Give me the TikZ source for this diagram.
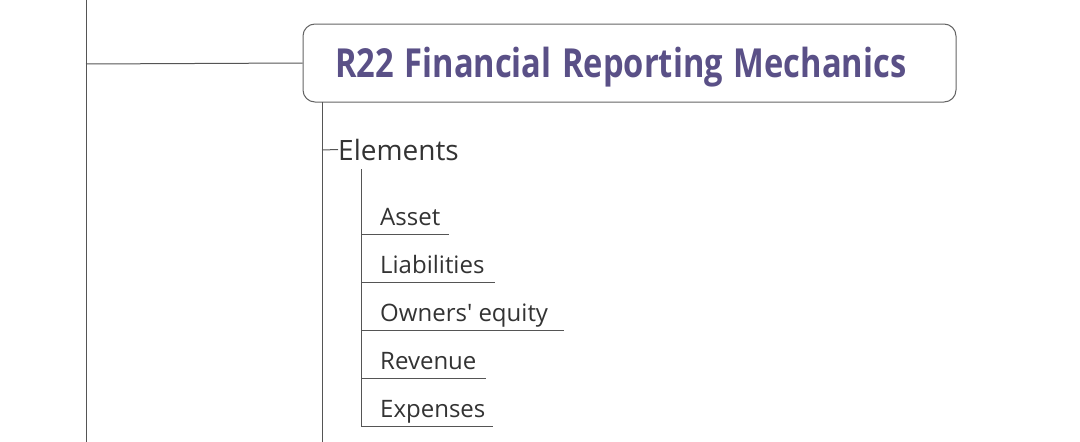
\documentclass[tikz,border=0pt]{standalone}
\usepackage{fontspec}
\setmainfont{Open Sans}
\definecolor{titlecol}{RGB}{90,80,135}
\definecolor{linecol}{RGB}{85,85,85}
\definecolor{txtcol}{RGB}{51,51,51}
\definecolor{boxcol}{RGB}{100,100,100}
\begin{document}
\begin{tikzpicture}[x=1pt,y=-1pt,
  conn/.style={draw=linecol,line width=1pt},
  titlebox/.style={draw=boxcol,line width=1pt,rounded corners=12pt,fill=white,
     minimum width=653pt,minimum height=78pt,inner xsep=32pt,inner ysep=0pt,
     text width=589pt,align=left,text height=29pt,text depth=0pt,
     font=\fontsize{40}{42}\selectfont\bfseries,text=titlecol},
  subtopic/.style={inner sep=0pt,anchor=base west,text=txtcol,font=\fontsize{28}{30}\selectfont},
  item/.style={inner sep=0pt,anchor=base west,text=txtcol,font=\fontsize{24}{26}\selectfont}]
\useasboundingbox (0,0) rectangle (1080,442);
\fill[white] (0,0) rectangle (1080,442);
% main branch
\coordinate (rootTop) at (86,0);
\coordinate (rootBot) at (86,442);
\coordinate (rootJ) at (86,64);
\draw[conn] (rootTop) -- (rootBot);
\node[titlebox] (title) at (629.5,63) {\scalebox{0.816}[1]{R22 Financial Reporting Mechanics}};
\draw[conn] (rootJ) -- (title.west);
% title subtree
\coordinate (tvTop) at (322,102);
\coordinate (tvBot) at (322,442);
\draw[conn] (tvTop) -- (tvBot);
\node[subtopic] (elements) at (338,160) {Elements};
\coordinate (elJ) at (322,150);
\draw[conn] (elJ) -- (elements.west);
% elements subtree
\coordinate (evTop) at (361,169);
\coordinate (evBot) at (361,426);
\draw[conn] (evTop) -- (evBot);
\foreach \name/\txt/\y/\xe in {asset/Asset/234/449, liab/Liabilities/282/495, equity/Owners\textquotesingle{} equity/330/564, rev/Revenue/378/486, exp/Expenses/426/493}{
  \node[item] (\name) at (380,\y-9) {\txt};
  \coordinate (\name L) at (361,\y);
  \coordinate (\name R) at (\xe,\y);
  \draw[conn] (\name L) -- (\name R);
}
\end{tikzpicture}
\end{document}
